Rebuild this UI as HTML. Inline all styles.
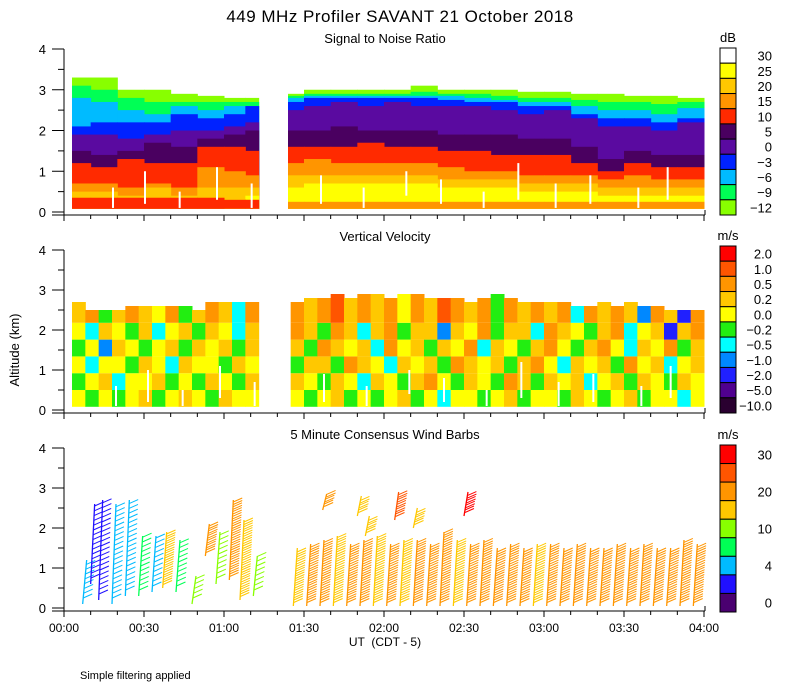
<!DOCTYPE html>
<html><head><meta charset="utf-8">
<style>
body{margin:0;background:#fff;}
svg{display:block;font-family:"Liberation Sans",sans-serif;}
</style></head>
<body>
<svg id="chart" width="800" height="700" xmlns="http://www.w3.org/2000/svg">
<rect x="0" y="0" width="800" height="700" fill="#fff"/>
<text x="400" y="22" font-size="17" text-anchor="middle" letter-spacing="0.5">449 MHz Profiler SAVANT 21 October 2018</text>
<text x="385" y="43" font-size="13" text-anchor="middle">Signal to Noise Ratio</text>
<text x="385" y="241" font-size="13" text-anchor="middle">Vertical Velocity</text>
<text x="385" y="439" font-size="13" text-anchor="middle">5 Minute Consensus Wind Barbs</text>
<text x="19" y="350" font-size="13" text-anchor="middle" transform="rotate(-90 19 350)">Altitude (km)</text>
<text x="385" y="646" font-size="12" text-anchor="middle" xml:space="preserve">UT  (CDT - 5)</text>
<text x="80" y="679" font-size="11">Simple filtering applied</text>
<g id="g1"></g>
<g id="g2"></g>
<g id="g3"></g>
<g id="gax"></g>
</svg>
<script>
// ---------- SNR data (per column, top height km of each band) ----------
const snrTimes = [3,10,20,30,40,50,60,68, 84,90,100,110,120,130,140,150,160,170,180,190,200,210,220,230];
const snrLime   = [3.3,3.3,3.0,3.0,2.9,2.85,2.8,2.8, 2.9,3.0,3.0,3.0,3.0,3.1,3.0,3.0,3.0,2.95,2.95,2.9,2.9,2.85,2.85,2.8];
const snrGreen  = [3.1,3.0,2.8,2.7,2.7,2.7,2.7,2.7, 2.85,2.9,2.9,2.9,2.9,2.95,2.9,2.9,2.85,2.8,2.8,2.75,2.7,2.7,2.65,2.7];
const snrCyan   = [2.8,2.7,2.5,2.4,2.6,2.5,2.6,2.6, 2.8,2.85,2.85,2.85,2.85,2.85,2.85,2.8,2.75,2.7,2.7,2.6,2.5,2.5,2.4,2.55];
const snrBlue   = [2.1,2.2,2.2,2.2,2.4,2.3,2.4,2.6, 2.7,2.8,2.8,2.8,2.8,2.8,2.75,2.7,2.7,2.6,2.6,2.4,2.3,2.3,2.2,2.3];
const snrPurple = [1.9,1.9,1.8,1.9,2.0,2.0,2.1,2.2, 2.5,2.6,2.7,2.6,2.7,2.6,2.6,2.6,2.5,2.4,2.5,2.3,2.1,2.1,2.0,2.2];
const snrDark   = [1.5,1.4,1.5,1.7,1.6,1.8,1.9,2.0, 2.0,2.0,2.1,2.0,2.0,2.0,1.9,1.9,1.9,1.8,1.8,1.6,1.3,1.5,1.4,1.4];
const snrRed    = [1.2,1.1,1.3,1.2,1.2,1.6,1.6,1.5, 1.6,1.6,1.6,1.7,1.6,1.6,1.5,1.5,1.4,1.4,1.4,1.2,1.0,1.2,1.1,1.1];
const snrOrange = [0.7,0.7,0.6,0.7,0.6,1.1,1.0,0.9, 1.2,1.3,1.2,1.2,1.2,1.2,1.1,1.0,1.0,0.9,0.9,0.9,0.8,0.9,0.8,0.8];
const snrGold   = [0.5,0.5,0.4,0.6,0.4,0.6,0.6,0.6, 0.9,0.9,0.9,0.9,0.9,0.9,0.8,0.8,0.8,0.7,0.7,0.7,0.6,0.6,0.6,0.6];
const snrYellow = [0,0,0,0,0,0,0.3,0.4, 0.6,0.7,0.7,0.7,0.7,0.7,0.6,0.6,0.6,0.5,0.5,0.5,0.4,0.4,0.4,0.4];
const snrLowRed = [0.35,0.35,0.35,0.35,0.35,0.35,0.3,0.3, 0,0,0,0,0,0,0,0,0,0,0,0,0,0,0,0];
const snrLowOrange=[0,0,0,0,0,0,0,0, 0.25,0.25,0.25,0.25,0.25,0.25,0.25,0.25,0.25,0.25,0.25,0.25,0.25,0.25,0.25,0.25];
const snrLabels = ["30","25","20","15","10","5","0","\u22123","\u22126","\u22129","\u221212"];
const snrColors = ["#ffffff","#ffff00","#ffc800","#ff9500","#ff2a00","#4a0060","#5a0aa0","#0022ff","#00bbff","#00ff55","#88ff00"];
const whiteT = [18,30,43,57,70,96,112,128,141,157,170,184,197,215,226];
const whiteH0 = [0.1,0.2,0.1,0.3,0.1,0.2,0.1,0.4,0.2,0.1,0.3,0.1,0.2,0.1,0.3];
const whiteH1 = [0.6,1.0,0.5,1.1,0.7,0.9,0.6,1.0,0.8,0.5,1.2,0.7,0.9,0.6,1.1];

// ---------- Vertical velocity data ----------
const vvTimes = [3,8,13,18,23,28,33,38,43,48,53,58,63,68, 85,90,95,100,105,110,115,120,125,130,135,140,145,150,155,160,165,170,175,180,185,190,195,200,205,210,215,220,225,230,235];
const vvTop = [2.7,2.5,2.5,2.5,2.6,2.6,2.6,2.6,2.6,2.5,2.7,2.7,2.7,2.7, 2.7,2.8,2.8,2.9,2.8,2.9,2.9,2.8,2.9,2.9,2.8,2.8,2.8,2.7,2.8,2.9,2.8,2.7,2.7,2.7,2.7,2.6,2.6,2.7,2.6,2.7,2.6,2.6,2.5,2.5,2.5];
const vvBin0 = [0.1,-0.1,0.1,-0.1,0.1,0.3,-0.1,0.1,0.3,0.1,-0.1,0.3,0.1,0.1, 0.1,-0.1,0.1,0.3,-0.1,0.1,-0.1,0.1,0.3,-0.1,0.1,-0.3,0.1,0.1,-0.1,0.1,0.3,-0.1,0.1,0.1,-0.1,0.3,0.1,-0.1,0.1,0.3,-0.1,0.1,0.1,-0.3,0.1];
const vvBin1 = [-0.1,0.1,0.3,-0.3,0.1,0.1,0.3,-0.1,0.1,-0.1,0.3,0.1,-0.1,0.3, 0.3,0.1,-0.1,0.3,0.1,-0.3,0.3,0.1,-0.1,0.3,0.6,0.1,-0.1,0.3,0.1,-0.1,0.6,0.3,-0.1,0.3,0.1,0.3,-0.3,0.1,0.3,-0.1,0.3,0.1,-0.1,0.3,0.1];
const vvBin2 = [0.1,-0.3,0.1,0.1,-0.1,0.3,0.1,-0.3,0.3,0.1,0.1,-0.1,0.3,0.1, -0.1,0.3,0.3,-0.1,0.6,0.3,0.1,-0.3,0.3,0.1,0.3,-0.1,0.6,0.3,0.1,0.3,-0.1,0.3,0.6,0.1,-0.3,0.3,0.1,0.3,-0.1,0.6,0.1,0.3,-0.3,0.1,0.3];
const vvBin3 = [-0.1,0.1,-0.7,0.3,0.1,-0.1,0.1,0.3,-0.1,0.3,0.1,0.3,-0.1,0.3, 0.3,-0.1,0.6,0.3,0.1,0.3,-0.3,0.6,0.1,0.3,-0.1,0.3,0.1,0.6,-0.3,0.3,0.1,-0.1,0.3,0.6,0.1,-0.1,0.3,0.6,0.1,-0.3,0.3,0.1,0.6,-0.1,0.3];
const vvBin4 = [0.1,-0.3,0.3,0.1,-0.1,0.3,-0.3,0.1,0.3,-0.1,0.3,0.1,-0.3,0.3, 0.6,0.3,-0.1,0.6,0.3,-0.3,0.3,0.6,-0.1,0.3,0.3,-0.7,0.3,0.1,0.6,-0.1,0.3,0.3,-0.3,0.6,0.3,0.1,-0.1,0.3,0.6,-0.3,0.1,0.3,-1.5,0.3,0.6];
const vvBin5 = [0.3,0.6,-0.1,0.3,0.6,0.3,0.1,0.6,-0.1,0.3,0.6,0.3,-0.3,0.6, 0.6,0.3,0.6,1.2,0.3,0.6,0.3,0.6,0.1,0.6,0.3,1.2,0.6,0.3,0.6,-0.1,0.6,0.3,0.6,0.3,0.6,-0.3,0.6,0.3,0.6,0.3,-0.6,0.6,0.3,-1.5,0.6];
const vvLabels = ["2.0","1.0","0.5","0.2","0.0","\u22120.2","\u22120.5","\u22121.0","\u22122.0","\u22125.0","\u221210.0"];
const vvLevels = [2,1,0.5,0.2,0,-0.2,-0.5,-1,-2,-5,-100];
const vvColors = ["#ff0000","#ff5500","#ff9500","#ffc800","#ffff00","#22ee11","#00ffff","#0088ff","#2020ff","#500090","#2a0030"];

// ---------- Wind barbs ----------
const barbT   = [7,10,13,18,23,28,33,37,42,48,53,57,62,66,71, 86,91,96,101,106,111,116,121,126,131,136,141,146,151,156,161,166,171,176,181,186,191,196,201,206,211,216,221,226,231,236];
const barbBot = [0.1,0.6,0.2,0.1,0.3,0.3,0.4,0.5,0.4,0.1,1.3,0.6,0.7,0.2,0.3, 0.05,0.05,0.05,0.05,0.05,0.05,0.05,0.05,0.05,0.05,0.05,0.05,0.05,0.05,0.05,0.05,0.05,0.05,0.05,0.05,0.05,0.05,0.05,0.05,0.05,0.05,0.05,0.05,0.05,0.05,0.05];
const barbTop = [1.2,2.6,2.7,2.6,2.7,1.8,1.8,1.9,1.7,0.8,2.1,1.9,2.7,2.2,1.3, 1.5,1.6,1.7,1.8,1.6,1.7,1.8,1.6,1.7,1.7,1.6,1.9,1.7,1.6,1.7,1.5,1.6,1.5,1.6,1.6,1.5,1.6,1.5,1.5,1.6,1.5,1.6,1.5,1.5,1.7,1.6];
const barbSpd = [4,2,2,4,4,7,4,15,7,10,20,10,20,15,10, 15,20,20,15,20,20,15,20,15,20,20,20,15,20,20,20,20,20,15,20,20,20,20,20,20,20,20,20,20,20,20];
const upT   = [97,110,113,124,131,150];
const upBot = [2.45,2.3,1.8,2.2,2.0,2.3];
const upTop = [2.85,2.8,2.3,2.9,2.5,2.9];
const upSpd = [20,15,15,25,15,30];
const windLabels = ["30","20","10","4","0"];
const windLevels = [30,25,20,15,10,7,4,2,0];
const windColors = ["#ff0000","#ff5500","#ff9500","#ffc800","#88ff00","#00ff55","#00bbff","#2010ff","#4a0070"];

const xTickLabels = ["00:00","00:30","01:00","01:30","02:00","02:30","03:00","03:30","04:00"];

// ---------- helpers ----------
const NS = "http://www.w3.org/2000/svg";
const X = t => 64 + t/240*640;
const panels = [{y4:49,y0:212,ax:215},{y4:250,y0:410,ax:413},{y4:448,y0:608,ax:611}];
const Yf = p => h => p.y0 - h/4*(p.y0-p.y4);
function mk(parent, tag, attrs){const e=document.createElementNS(NS,tag);for(const k in attrs)e.setAttribute(k,attrs[k]);parent.appendChild(e);return e;}
const colEnd = (arr,i) => (i===7 && arr===snrTimes) ? 73 : (i===13 && arr===vvTimes) ? 73 : (i+1<arr.length ? arr[i+1] : 240);

// ---------- SNR panel ----------
const g1 = document.getElementById('g1');
const Y1 = Yf(panels[0]);
const snrBands = [[snrLime,"#88ff00"],[snrGreen,"#00ff55"],[snrCyan,"#00bbff"],[snrBlue,"#0022ff"],[snrPurple,"#5a0aa0"],[snrDark,"#4a0060"],[snrRed,"#ff2a00"],[snrOrange,"#ff9500"],[snrGold,"#ffc800"],[snrYellow,"#ffff00"],[snrLowRed,"#ff2a00"],[snrLowOrange,"#ff9500"]];
snrBands.forEach(([arr,col])=>{
  snrTimes.forEach((t,i)=>{
    const top = arr[i]; if(!top) return;
    const x0=X(t), x1=X(colEnd(snrTimes,i));
    const r = mk(g1,'rect',{x:x0,y:Y1(top),width:x1-x0+0.5,height:Y1(0.08)-Y1(top),fill:col});
    
    
  });
});
whiteT.forEach((t,i)=>{
  const r = mk(g1,'rect',{x:X(t),y:Y1(whiteH1[i]),width:2,height:Y1(whiteH0[i])-Y1(whiteH1[i]),fill:"#fff"});
  
  
});

// ---------- VV panel ----------
const g2 = document.getElementById('g2');
const Y2 = Yf(panels[1]);
const vvColor = v => { for(let k=0;k<vvLevels.length;k++){ if(v>=vvLevels[k]) return vvColors[k]; } return vvColors[vvColors.length-1]; };
const vvBins = [vvBin0,vvBin1,vvBin2,vvBin3,vvBin4,vvBin5];
vvTimes.forEach((t,i)=>{
  const x0=X(t), x1=X(colEnd(vvTimes,i));
  const top = vvTop[i];
  vvBins.forEach((bin,b)=>{
    const v = bin[i]; if(v===undefined) return;
    const h0 = 0.08 + b*0.42, h1 = (b===5) ? top : Math.min(top, 0.08+(b+1)*0.42);
    if(h1<=h0) return;
    const r = mk(g2,'rect',{x:x0,y:Y2(h1),width:x1-x0+0.5,height:Y2(h0)-Y2(h1),fill:vvColor(v)});
    
    
  });
});
whiteT.forEach((t,i)=>{
  const r = mk(g2,'rect',{x:X(t)+3,y:Y2(whiteH1[i]),width:2,height:Y2(whiteH0[i])-Y2(whiteH1[i]),fill:"#fff"});
  
  
});

// ---------- Wind panel ----------
const g3 = document.getElementById('g3');
const Y3 = Yf(panels[2]);
const windColor = s => { for(let k=0;k<windLevels.length;k++){ if(s>=windLevels[k]) return windColors[k]; } return windColors[windColors.length-1]; };
function drawBarbColumn(t,h0,h1,spd){
  const col = windColor(spd);
  const x = X(t), yb = Y3(h0), yt = Y3(h1);
  const lean = 4;
  const s = mk(g3,'line',{x1:x,y1:yb,x2:x+lean,y2:yt,stroke:col,'stroke-width':1.3});
  
  
  const nf = spd>=15 ? 2 : 1;
  for(let h=h0+0.15; h<=h1+0.001; h+=0.12){
    const fy = Y3(h), fx = x + lean*(yb-fy)/Math.max(1,(yb-yt));
    for(let f=0; f<nf; f++){
      const l = mk(g3,'line',{x1:fx,y1:fy+f*2.5,x2:fx+9,y2:fy+f*2.5-4,stroke:col,'stroke-width':1});
      
      
    }
  }
}
barbT.forEach((t,i)=>drawBarbColumn(t,barbBot[i],barbTop[i],barbSpd[i]));
upT.forEach((t,i)=>drawBarbColumn(t,upBot[i],upTop[i],upSpd[i]));

// ---------- Axes & colorbars ----------
const gax = document.getElementById('gax');
panels.forEach((p,pi)=>{
  const Y = Yf(p);
  const a1 = mk(gax,'line',{x1:64,y1:p.y4,x2:64,y2:p.ax,stroke:"#000",'stroke-width':1});
  
  
  const a2 = mk(gax,'line',{x1:52,y1:p.ax,x2:705,y2:p.ax,stroke:"#000",'stroke-width':1});
  
  
  mk(gax,'line',{x1:705,y1:p.ax,x2:705,y2:p.ax-5,stroke:"#000"});
  for(let h=0; h<=4; h+=0.5){
    const major = (h%1===0);
    mk(gax,'line',{x1:major?52:58,y1:Y(h),x2:64,y2:Y(h),stroke:"#000"});
    if(major){
      const tx = mk(gax,'text',{x:46,y:Y(h)+5,'font-size':13,'text-anchor':'end'});
      tx.textContent = String(h);
      
      
    }
  }
  for(let m=0; m<=240; m+=10){
    const major = (m%30===0);
    mk(gax,'line',{x1:X(m),y1:p.ax,x2:X(m),y2:p.ax+(major?6:4),stroke:"#000"});
  }
});
xTickLabels.forEach((lab,i)=>{
  const tx = mk(gax,'text',{x:X(i*30),y:632,'font-size':12,'text-anchor':'middle'});
  tx.textContent = lab;
  
  
});
function colorbar(top,bottom,colors,labels,labelIdx,unit){
  const n = colors.length, hgt = (bottom-top)/n;
  colors.forEach((c,i)=>{
    const r = mk(gax,'rect',{x:720,y:top+i*hgt,width:16,height:hgt,fill:c,stroke:"#000",'stroke-width':1});
    
    
  });
  labels.forEach((lab,i)=>{
    const k = labelIdx[i];
    const tx = mk(gax,'text',{x:772,y:top+(k+0.5)*hgt+5,'font-size':13,'text-anchor':'end'});
    tx.textContent = lab;
    
    
  });
  const u = mk(gax,'text',{x:728,y:top-6,'font-size':13,'text-anchor':'middle'});
  u.textContent = unit;
  
  
}
colorbar(48,215,snrColors,snrLabels,[0,1,2,3,4,5,6,7,8,9,10],"dB");
colorbar(246,413,vvColors,vvLabels,[0,1,2,3,4,5,6,7,8,9,10],"m/s");
colorbar(445,612,windColors,windLabels,[0,2,4,6,8],"m/s");
</script>
</body></html>
